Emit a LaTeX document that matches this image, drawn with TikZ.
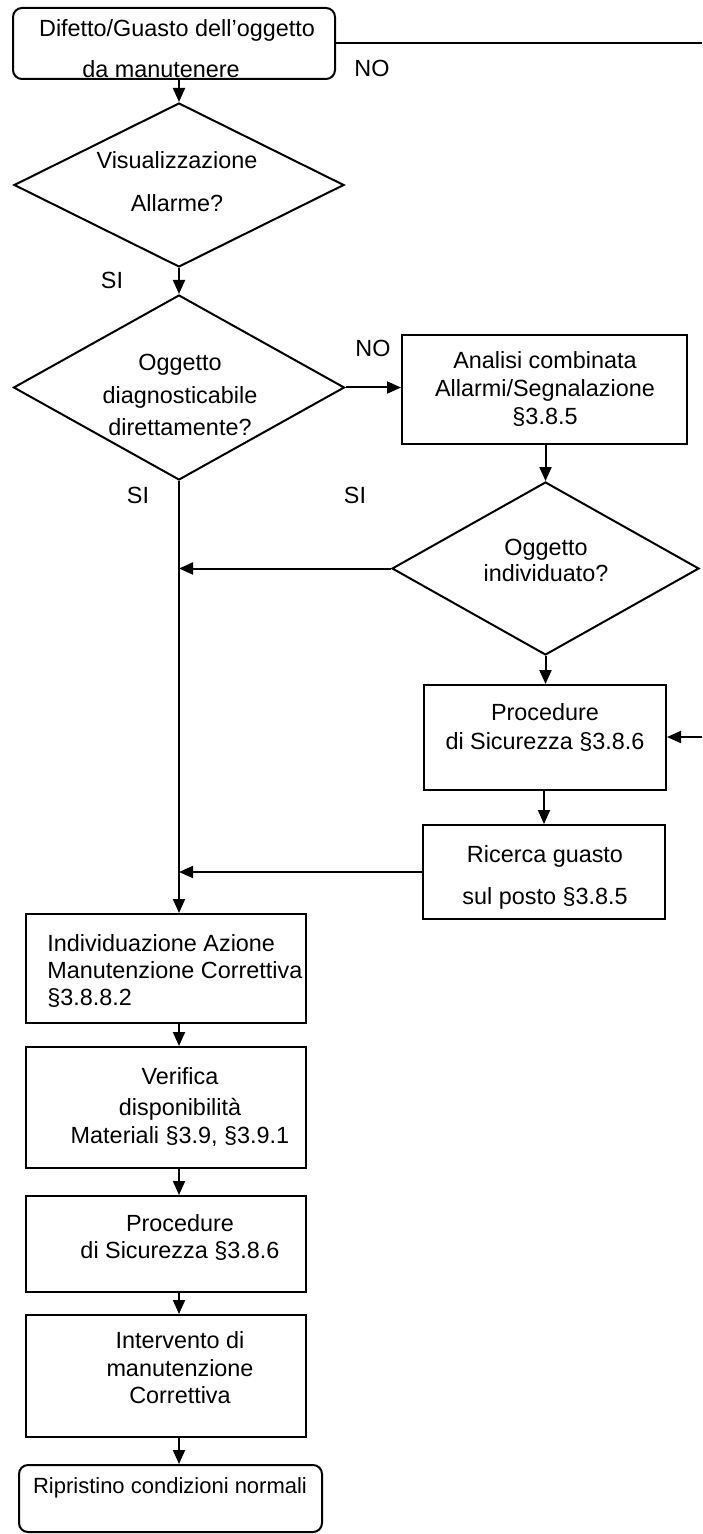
\documentclass[tikz,border=0pt]{standalone}
\usepackage{fontspec}
\setmainfont{Liberation Sans}
\usetikzlibrary{shapes.geometric,arrows.meta}
\begin{document}
\begin{tikzpicture}[x=0.5pt,y=-0.5pt,
  every node/.style={font=\fontsize{11.7}{14}\selectfont},
  box/.style={draw, rectangle, line width=1pt, inner sep=0pt},
  rbox/.style={draw, rectangle, rounded corners=4.5pt, line width=1pt, inner sep=0pt},
  dia/.style={draw, diamond, line width=1pt, inner sep=0pt},
  txt/.style={inner sep=0pt, text height=8.4pt, text depth=0pt},
  arr/.style={-{Triangle[length=7pt,width=6pt]}, line width=1pt},
  ln/.style={line width=1pt}]
\useasboundingbox (0,0) rectangle (702,1534);

% shapes
\node[rbox, minimum width=161pt, minimum height=35.5pt] (top) at (174,43.5) {};
\node[dia, minimum width=165pt, minimum height=82pt] (d1) at (179,185) {};
\node[dia, minimum width=165.5pt, minimum height=92.5pt] (d2) at (179,387.5) {};
\node[box, minimum width=142.5pt, minimum height=54.5pt] (an) at (544.5,389.5) {};
\node[dia, minimum width=153.5pt, minimum height=86.5pt] (d3) at (545.5,568.5) {};
\node[box, minimum width=121pt, minimum height=52.5pt] (pr) at (545,737.5) {};
\node[box, minimum width=121pt, minimum height=47pt] (ri) at (544,872) {};
\node[box, minimum width=140pt, minimum height=54.5pt] (ind) at (166,968.5) {};
\node[box, minimum width=140pt, minimum height=60.5pt] (ver) at (166,1107.5) {};
\node[box, minimum width=140pt, minimum height=48pt] (pl) at (166,1244) {};
\node[box, minimum width=140pt, minimum height=61pt] (int) at (166,1376) {};
\node[rbox, minimum width=151.5pt, minimum height=33.5pt] (rip) at (170.5,1498.5) {};

\coordinate (colL) at (179,0);
\coordinate (tr) at (702,43.5);
\coordinate (rin) at (702,737);

% texts
\node[txt] (t1a) at (177,28) {Difetto/Guasto dell'oggetto};
\node[txt] (t1b) at (161,69) {da manutenere};
\node[txt] (no1) at (372,68) {NO};
\node[txt] (d1a) at (177,160) {Visualizzazione};
\node[txt] (d1b) at (177,203) {Allarme?};
\node[txt] (si1) at (112,280) {SI};
\node[txt] (d2a) at (180,362) {Oggetto};
\node[txt] (d2b) at (180,395) {diagnosticabile};
\node[txt] (d2c) at (180,427) {direttamente?};
\node[txt] (no2) at (373,348) {NO};
\node[txt] (ana) at (545,360) {Analisi combinata};
\node[txt] (anb) at (545,388) {Allarmi/Segnalazione};
\node[txt] (anc) at (545,416) {§3.8.5};
\node[txt] (si2) at (138,495) {SI};
\node[txt] (si3) at (355,495) {SI};
\node[txt] (d3a) at (546,547) {Oggetto};
\node[txt] (d3b) at (546,573) {individuato?};
\node[txt] (pra) at (545,712) {Procedure};
\node[txt] (prb) at (545,741) {di Sicurezza §3.8.6};
\node[txt] (ria) at (545,854) {Ricerca guasto};
\node[txt] (rib) at (545,896) {sul posto §3.8.5};
\node[txt, anchor=west] (inda) at (47,943) {Individuazione Azione};
\node[txt, anchor=west] (indb) at (47,970) {Manutenzione Correttiva};
\node[txt, anchor=west] (indc) at (47,997) {§3.8.8.2};
\node[txt] (vea) at (180,1076) {Verifica};
\node[txt] (veb) at (180,1107) {disponibilità};
\node[txt] (vec) at (180,1135) {Materiali §3.9, §3.9.1};
\node[txt] (pla) at (180,1223) {Procedure};
\node[txt] (plb) at (180,1250) {di Sicurezza §3.8.6};
\node[txt] (inta) at (180,1340) {Intervento di};
\node[txt] (intb) at (180,1368) {manutenzione};
\node[txt] (intc) at (180,1395) {Correttiva};
\node[txt, font=\fontsize{11}{13}\selectfont, text height=7.9pt] (ripa) at (170,1486) {Ripristino condizioni normali};

% connectors
\draw[ln] (top.east) -- (tr);
\draw[arr] (top.south -| d1.north) -- (d1.north);
\draw[arr] (d1.south) -- (d2.north);
\draw[arr] (d2.east) -- (d2.east -| an.west);
\draw[arr] (an.south -| d3.north) -- (d3.north);
\draw[arr] (d3.west) -- (d3.west -| colL);
\draw[arr] (d3.south) -- (pr.north -| d3.south);
\draw[arr] (rin) -- (rin -| pr.east);
\draw[arr] (pr.south -| ri.north) -- (ri.north);
\draw[arr] (ri.west) -- (ri.west -| colL);
\draw[arr] (d2.south) -- (ind.north -| colL);
\draw[arr] (ind.south -| colL) -- (ver.north -| colL);
\draw[arr] (ver.south -| colL) -- (pl.north -| colL);
\draw[arr] (pl.south -| colL) -- (int.north -| colL);
\draw[arr] (int.south -| colL) -- (rip.north -| colL);
\end{tikzpicture}
\end{document}
